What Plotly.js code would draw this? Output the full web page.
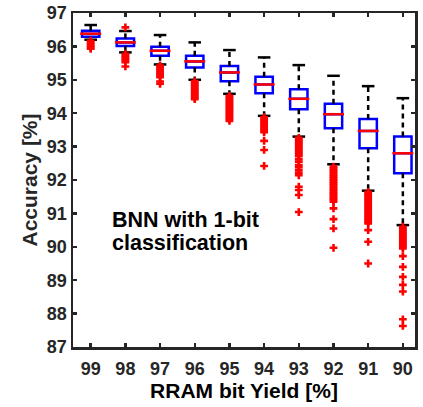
<!DOCTYPE html>
<html>
<head>
<meta charset="utf-8">
<script src="https://cdn.plot.ly/plotly-3.0.1.min.js"></script>
<style>html,body{margin:0;padding:0;background:#fff;}#chart{width:423px;height:407px;}</style>
</head>
<body>
<div id="chart"></div>
<script>
const categories = ['99','98','97','96','95','94','93','92','91','90'];
const q1     = [96.29, 96.01, 95.72, 95.37, 94.96, 94.60, 94.12, 93.55, 92.95, 92.20];
const median = [96.38, 96.12, 95.87, 95.55, 95.22, 94.86, 94.43, 93.97, 93.47, 92.80];
const q3     = [96.47, 96.24, 95.99, 95.72, 95.41, 95.09, 94.72, 94.28, 93.83, 93.30];
const upperWhisker = [96.64, 96.46, 96.34, 96.12, 95.89, 95.67, 95.44, 95.12, 94.81, 94.45];
const lowerWhisker = [96.20, 95.82, 95.46, 95.00, 94.58, 93.92, 93.30, 92.47, 91.68, 90.65];

const out99 = [96.17, 96.12, 96.07, 96.02, 95.97, 95.93];
const out98 = [96.57, 95.78, 95.73, 95.68, 95.63, 95.58, 95.53, 95.40];
const out97 = [95.43, 95.38, 95.33, 95.28, 95.23, 95.18, 95.13, 95.08, 94.95, 94.88];
const out96 = [94.96, 94.91, 94.86, 94.81, 94.76, 94.71, 94.66, 94.61, 94.56, 94.51, 94.46, 94.42];
const out95 = [94.52, 94.47, 94.42, 94.37, 94.32, 94.27, 94.22, 94.17, 94.12, 94.07, 94.02, 93.97, 93.92, 93.87, 93.82, 93.77];
const out94 = [93.88, 93.83, 93.78, 93.73, 93.68, 93.63, 93.58, 93.53, 93.48, 93.43, 93.17, 92.90, 92.42];
const out93 = [93.26, 93.21, 93.16, 93.11, 93.06, 93.01, 92.96, 92.91, 92.86, 92.81, 92.76, 92.71, 92.62, 92.55, 92.45, 92.38, 92.30, 92.22, 92.14, 91.80, 91.70, 91.55, 91.04];
const out92 = [92.40, 92.35, 92.30, 92.25, 92.20, 92.15, 92.10, 92.05, 92.00, 91.95, 91.90, 91.85, 91.80, 91.75, 91.70, 91.65, 91.60, 91.55, 91.50, 91.45, 91.40, 91.35, 91.15, 90.83, 90.55, 89.97];
const out91 = [91.64, 91.59, 91.54, 91.49, 91.44, 91.39, 91.34, 91.29, 91.24, 91.19, 91.14, 91.09, 91.04, 90.99, 90.94, 90.89, 90.84, 90.79, 90.74, 90.70, 90.50, 90.15, 89.50];
const out90 = [90.60, 90.55, 90.50, 90.45, 90.40, 90.35, 90.30, 90.25, 90.20, 90.15, 90.10, 90.05, 90.00, 89.95, 89.72, 89.40, 89.10, 88.86, 88.66, 87.83, 87.63];
const outliers = [out99, out98, out97, out96, out95, out94, out93, out92, out91, out90];

const pos = categories.map((c, i) => i + 1);

const boxTrace = {
  type: 'box', x: pos, q1: q1, median: median, q3: q3,
  lowerfence: q1, upperfence: q3, width: 0.5, whiskerwidth: 0,
  boxpoints: false, fillcolor: 'rgba(0,0,0,0)',
  line: {color: '#0000FF', width: 2.5}, hoverinfo: 'skip', showlegend: false
};

const wx = [], wy = [];
pos.forEach((p, i) => {
  wx.push(p, p, null, p, p, null);
  wy.push(q3[i], upperWhisker[i], null, q1[i], lowerWhisker[i], null);
});
const whiskers = {
  type: 'scatter', mode: 'lines', x: wx, y: wy,
  line: {color: '#000', width: 2.5, dash: '5px,4px'}, hoverinfo: 'skip', showlegend: false
};
const caps = {
  type: 'scatter', mode: 'markers', x: pos.concat(pos), y: upperWhisker.concat(lowerWhisker),
  marker: {symbol: 'line-ew', size: 9, line: {color: '#000', width: 2.5}}, hoverinfo: 'skip', showlegend: false
};
const medians = {
  type: 'scatter', mode: 'markers', x: pos, y: median,
  marker: {symbol: 'line-ew', size: 15, line: {color: '#FF0000', width: 2.5}}, hoverinfo: 'skip', showlegend: false
};
const ox = [], oy = [];
outliers.forEach((arr, i) => arr.forEach(v => { ox.push(pos[i]); oy.push(v); }));
const outTrace = {
  type: 'scatter', mode: 'markers', x: ox, y: oy,
  marker: {symbol: 'cross', size: 6.5, color: '#FF0000', line: {width: 0}}, hoverinfo: 'skip', showlegend: false
};

const fontFam = 'Liberation Sans, Arial, sans-serif';
const axisCommon = {
  showline: true, linecolor: '#262626', linewidth: 2.5, mirror: 'allticks',
  ticks: 'inside', ticklen: 4, tickwidth: 2.5, tickcolor: '#262626',
  showgrid: false, zeroline: false,
  tickfont: {family: fontFam, size: 18, color: '#262626', weight: 'bold'}
};

const layout = {
  width: 423, height: 407,
  margin: {l: 73, r: 8, t: 13, b: 60},
  paper_bgcolor: '#fff', plot_bgcolor: '#fff',
  showlegend: false,
  xaxis: Object.assign({}, axisCommon, {
    range: [0.49, 10.35], tickmode: 'array', tickvals: pos, ticktext: categories,
    ticklabelstandoff: 4,
    title: {text: 'RRAM bit Yield [%]', standoff: 4, font: {family: fontFam, size: 21, color: '#000', weight: 'bold'}}
  }),
  yaxis: Object.assign({}, axisCommon, {
    range: [87, 97], tickmode: 'linear', tick0: 87, dtick: 1,
    title: {text: 'Accuracy [%]', standoff: 4, font: {family: fontFam, size: 21, color: '#262626', weight: 'bold'}}
  }),
  annotations: [
    {xref: 'paper', yref: 'paper', x: 0.108, y: 0.380, xanchor: 'left', yanchor: 'middle', showarrow: false,
     text: 'BNN with 1-bit', font: {family: fontFam, size: 21.5, color: '#000', weight: 'bold'}},
    {xref: 'paper', yref: 'paper', x: 0.108, y: 0.311, xanchor: 'left', yanchor: 'middle', showarrow: false,
     text: 'classification', font: {family: fontFam, size: 21.5, color: '#000', weight: 'bold'}}
  ]
};

Plotly.newPlot('chart', [boxTrace, whiskers, caps, medians, outTrace], layout, {staticPlot: true, displayModeBar: false});
</script>
</body>
</html>
